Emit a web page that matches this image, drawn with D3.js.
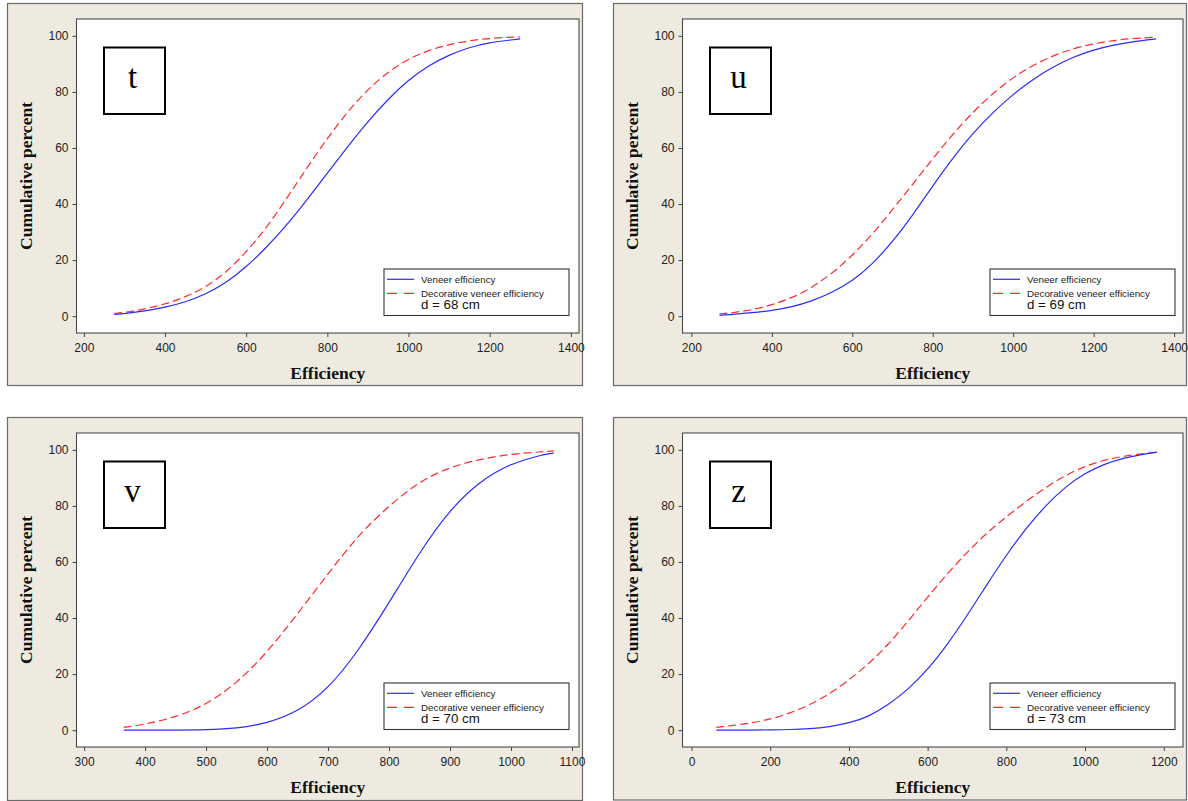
<!DOCTYPE html>
<html><head><meta charset="utf-8">
<script src="https://cdn.jsdelivr.net/npm/d3@7"></script>
<style>body{margin:0;background:#fff}svg{display:block}</style>
</head><body>
<svg id="c" width="1188" height="801"></svg>
<script>
// ---------- DATA ----------
const yTicks = [0, 20, 40, 60, 80, 100];
const yDomain = [-6, 106];
const seriesNames = ["Veneer efficiency", "Decorative veneer efficiency"];
const panelLabels = ["t", "u", "v", "z"];
const dLabels = ["d = 68 cm", "d = 69 cm", "d = 70 cm", "d = 73 cm"];

// panel t
const tEff     = [275,300,350,400,450,500,550,600,650,700,750,800,850,900,950,1000,1050,1100,1150,1200,1250,1275];
const tVeneer  = [0.6,0.9,1.8,3.1,5.0,7.8,11.8,17.5,24.5,32.5,41.5,51,60.5,69.5,77.5,84.3,89.5,93.2,95.9,97.6,98.5,98.9];
const tDecor   = [1.0,1.3,2.5,4.3,6.8,10.3,15.5,22.8,31.5,42,53,63.5,73,81,87.2,91.8,94.9,96.9,98.3,99.1,99.5,99.6];
const tXTicks  = [200,400,600,800,1000,1200,1400];
const tXDomain = [182, 1420];

// panel u
const uEff     = [270,300,350,400,450,500,550,600,650,700,750,800,850,900,950,1000,1050,1100,1150,1200,1250,1300,1355];
const uVeneer  = [0.3,0.6,1.2,2.0,3.3,5.4,8.5,12.5,18.5,26.5,36.0,46.5,56.5,65.3,72.8,79.2,84.6,89.0,92.5,95.0,96.8,98.0,98.9];
const uDecor   = [0.8,1.2,2.2,4.0,6.5,10.2,15.3,21.6,29.2,38.0,47.0,56.2,65.0,72.8,79.6,85.2,89.6,93.0,95.5,97.2,98.4,99.1,99.5];
const uXTicks  = [200,400,600,800,1000,1200,1400];
const uXDomain = [178, 1422];

// panel v
const vEff     = [365,400,450,500,550,600,650,700,750,800,850,900,950,1000,1050,1070];
const vVeneer  = [0,0,0,0.1,0.6,2.4,6.5,14.6,28.3,45.4,63.5,78.8,89.0,95.2,98.2,98.8];
const vDecor   = [1.0,2.1,4.6,9.0,16.7,27.6,41.5,55.8,69.7,80.1,88.8,93.9,96.7,98.5,99.3,99.6];
const vXTicks  = [300,400,500,600,700,800,900,1000,1100];
const vXDomain = [287.5, 1111.5];

// panel z
const zEff     = [63,100,150,200,250,300,350,400,450,500,550,600,650,700,750,800,850,900,950,1000,1050,1100,1150,1183];
const zVeneer  = [0,0,0,0.1,0.2,0.5,1.2,2.5,4.8,9.0,14.5,21.5,30.5,40.8,51.8,62.5,72.0,80.2,86.8,91.7,95.0,97.2,98.5,99.2];
const zDecor   = [1.0,1.6,2.5,3.9,6.0,9.0,12.8,17.9,23.6,30.5,38.8,47.5,55.8,63.5,70.3,76.2,81.6,86.6,90.9,94.2,96.4,97.8,98.7,99.1];
const zXTicks  = [0,200,400,600,800,1000,1200];
const zXDomain = [-23, 1249];

// ---------- LAYOUT ----------
const panels = [
  {eff:tEff, s1:tVeneer, s2:tDecor, ticks:tXTicks, dom:tXDomain, ox:7,   oy:3,   ow:575, oh:382},
  {eff:uEff, s1:uVeneer, s2:uDecor, ticks:uXTicks, dom:uXDomain, ox:613, oy:3,   ow:573, oh:382},
  {eff:vEff, s1:vVeneer, s2:vDecor, ticks:vXTicks, dom:vXDomain, ox:7,   oy:417, ow:575, oh:383},
  {eff:zEff, s1:zVeneer, s2:zDecor, ticks:zXTicks, dom:zXDomain, ox:613, oy:417, ow:573, oh:382.5}
];
const BLUE = "#2b2bff", RED = "#ff2a2a";
const svg = d3.select("#c");

panels.forEach((p, i) => {
  const g = svg.append("g");
  g.append("rect").attr("x", p.ox + 0.5).attr("y", p.oy + 0.5)
    .attr("width", p.ow).attr("height", p.oh)
    .attr("fill", "#eeeae0").attr("stroke", "#6a6a6a").attr("stroke-width", 1.2);

  const px = p.ox + 69.5, py = p.oy + 16, pw = p.ow - 72.5, ph = 314;
  const x = d3.scaleLinear().domain(p.dom).range([px, px + pw]);
  const y = d3.scaleLinear().domain(yDomain).range([py + ph, py]);

  g.append("rect").attr("x", px).attr("y", py).attr("width", pw).attr("height", ph)
    .attr("fill", "#fff").attr("stroke", "#4a4a4a").attr("stroke-width", 1.1);

  const ax = g.append("g").attr("transform", `translate(0,${py + ph})`)
    .call(d3.axisBottom(x).tickValues(p.ticks).tickSize(4).tickPadding(6).tickFormat(d3.format("d")));
  const ay = g.append("g").attr("transform", `translate(${px},0)`)
    .call(d3.axisLeft(y).tickValues(yTicks).tickSize(4).tickPadding(4).tickFormat(d3.format("d")));
  [ax, ay].forEach(a => {
    a.select(".domain").remove();
    a.selectAll("line").attr("stroke", "#444");
    a.selectAll("text").attr("fill", "#222").style("font-family", "'Liberation Sans', Arial, sans-serif").style("font-size", "12px");
  });

  // axis titles
  g.append("text").attr("x", px + pw / 2).attr("y", py + ph + 45.5)
    .attr("text-anchor", "middle").style("font-family", "'Liberation Serif','Times New Roman',serif")
    .style("font-weight", "bold").style("font-size", "17.5px").attr("fill", "#111").text("Efficiency");
  g.append("text").attr("transform", `translate(${px - 45},${py + ph / 2}) rotate(-90)`)
    .attr("text-anchor", "middle").style("font-family", "'Liberation Serif','Times New Roman',serif")
    .style("font-weight", "bold").style("font-size", "17.5px").attr("fill", "#111").text("Cumulative percent");

  // curves
  const pts1 = p.eff.map((e, k) => [e, p.s1[k]]);
  const pts2 = p.eff.map((e, k) => [e, p.s2[k]]);
  const line = d3.line().x(d => x(d[0])).y(d => y(d[1])).curve(d3.curveBasis);
  g.append("path").attr("d", line(pts2)).attr("fill", "none").attr("stroke", RED)
    .attr("stroke-width", 1.2).attr("stroke-dasharray", "8,4");
  g.append("path").attr("d", line(pts1)).attr("fill", "none").attr("stroke", BLUE)
    .attr("stroke-width", 1.2);

  // panel letter box
  const bx = px + 27.5, by = py + 28.5;
  g.append("rect").attr("x", bx).attr("y", by).attr("width", 61).attr("height", 66.5)
    .attr("fill", "#fff").attr("stroke", "#000").attr("stroke-width", 2);
  g.append("text").attr("x", bx + 28.5).attr("y", by + 40.5).attr("text-anchor", "middle")
    .style("font-family", "'Liberation Serif','Times New Roman',serif").style("font-size", "33px")
    .attr("fill", "#000").text(panelLabels[i]);

  // legend
  const lx = px + 307.5, ly = py + 250;
  g.append("rect").attr("x", lx).attr("y", ly).attr("width", 185).attr("height", 46.5)
    .attr("fill", "#fff").attr("stroke", "#333").attr("stroke-width", 1.1);
  g.append("line").attr("x1", lx + 3).attr("x2", lx + 30).attr("y1", ly + 10.3).attr("y2", ly + 10.3)
    .attr("stroke", BLUE).attr("stroke-width", 1.2);
  g.append("line").attr("x1", lx + 3).attr("x2", lx + 30).attr("y1", ly + 24.3).attr("y2", ly + 24.3)
    .attr("stroke", RED).attr("stroke-width", 1.2).attr("stroke-dasharray", "10,7");
  const lf = "'Liberation Sans', Arial, sans-serif";
  g.append("text").attr("x", lx + 37).attr("y", ly + 13.5).style("font-family", lf).style("font-size", "9.8px")
    .attr("fill", "#222").text(seriesNames[0]);
  g.append("text").attr("x", lx + 37).attr("y", ly + 27.5).style("font-family", lf).style("font-size", "9.8px")
    .attr("fill", "#222").text(seriesNames[1]);
  g.append("text").attr("x", lx + 37).attr("y", ly + 40.3).style("font-family", lf).style("font-size", "13.3px")
    .attr("fill", "#111").text(dLabels[i]);
});
</script>
</body></html>
